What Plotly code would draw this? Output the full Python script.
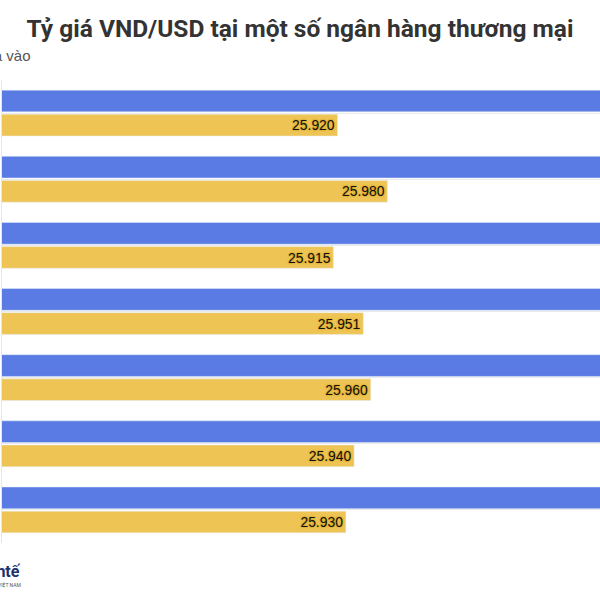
import plotly.graph_objects as go

# Tỷ giá VND/USD tại một số ngân hàng thương mại (bán ra / mua vào)
banks = ["Vietcombank", "BIDV", "VietinBank", "Agribank", "Techcombank", "ACB", "Sacombank"]
sell_rate = [26280, 26340, 26275, 26311, 26320, 26300, 26290]
buy_rate = [25920, 25980, 25915, 25951, 25960, 25940, 25930]

trace1 = go.Bar(
    y = banks,
    x = sell_rate,
    orientation = 'h',
    name = 'Bán ra',
    marker_color = 'rgb(90,123,227)',
    cliponaxis = True)

trace2 = go.Bar(
    y = banks,
    x = buy_rate,
    orientation = 'h',
    name = 'Mua vào',
    marker_color = 'rgb(238,197,85)',
    texttemplate = '%{x:,}',
    textposition = 'inside',
    insidetextanchor = 'end',
    textfont = dict(color='#111111', size=15, family='Liberation Sans',
                    shadow='0px 0px 2px rgb(205,155,20), 0px 0px 2px rgb(205,155,20)'),
    cliponaxis = True)

fig = go.Figure(data=[trace1, trace2])
fig.update_layout(
    width=600, height=600,
    barmode='group', bargap=0.27, bargroupgap=0.1,
    separators=',.',
    showlegend=False,
    plot_bgcolor='white', paper_bgcolor='white',
    margin=dict(l=2, r=0, t=80, b=57),
    title=dict(text='<b>Tỷ giá VND/USD tại một số ngân hàng thương mại</b>',
               x=0.5, xanchor='center', y=0.952, yanchor='middle',
               font=dict(family='Roboto', size=24.5, color='#333333')),
)
fig.update_xaxes(range=[25516, 26236], showgrid=False, zeroline=False,
                 showticklabels=False)
fig.update_yaxes(autorange='reversed', showticklabels=False,
                 showgrid=True, gridcolor='#ebebeb', gridwidth=1,
                 showline=True, linecolor='#e6e6e6', linewidth=1)

fig.add_annotation(text='Mua vào', xref='paper', yref='paper',
                   x=31/598, xanchor='right', y=1 + 24/463, yanchor='middle',
                   showarrow=False,
                   font=dict(family='Liberation Sans', size=15, color='#555555'))
fig.add_annotation(text='<b>Kinhtế</b>', xref='paper', yref='paper',
                   x=21/598, xanchor='right', y=-28/463, yanchor='middle',
                   showarrow=False,
                   font=dict(family='Roboto', size=16, color='#23306e'))
fig.add_annotation(text='VIỆT NAM', xref='paper', yref='paper',
                   x=21/598, xanchor='right', y=-41/463, yanchor='middle',
                   showarrow=False,
                   font=dict(family='Roboto', size=5, color='#555555'))

fig.write_html("out.html", config={'displayModeBar': False},
               post_script="document.body.style.margin='0';")
